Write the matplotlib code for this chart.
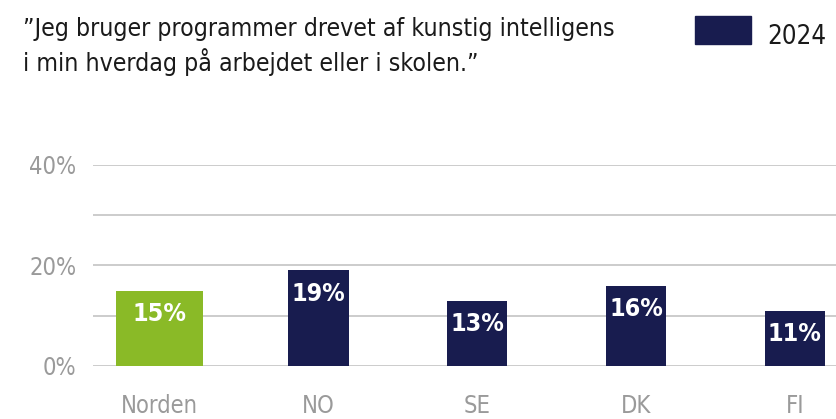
import matplotlib.pyplot as plt
from matplotlib.ticker import MultipleLocator, FuncFormatter

categories = ['Norden', 'NO', 'SE', 'DK', 'FI']
values = [15, 19, 13, 16, 11]
year = '2024'
title = '”Jeg bruger programmer drevet af kunstig intelligens\ni min hverdag på arbejdet eller i skolen.”'

green = '#8aba27'
navy = '#181c4f'
gray = '#9a9a9a'
plt.rcParams['font.family'] = ['DejaVu Sans']
plt.rcParams['font.stretch'] = 'condensed'

fig = plt.figure(figsize=(8.37, 4.19), dpi=100)
ax = fig.add_axes([0.111, 0.1265, 0.888, 0.48])

colors = [green] + [navy] * (len(categories) - 1)
widths = [0.55] + [0.38] * (len(categories) - 1)
bars = ax.bar(range(len(categories)), values, width=widths, color=colors, zorder=3)

for b, v in zip(bars, values):
    ax.annotate(f'{v}%', (b.get_x() + b.get_width() / 2, v), xytext=(0, -8),
                textcoords='offset points', ha='center', va='top',
                color='white', fontsize=18, fontweight='bold', zorder=4)

ax.set_ylim(0, 40)
ax.set_xlim(-0.42, 4.26)
ax.yaxis.set_major_locator(MultipleLocator(20))
ax.yaxis.set_minor_locator(MultipleLocator(10))
ax.yaxis.set_major_formatter(FuncFormatter(lambda v, p: f'{v:.0f}%'))
ax.grid(axis='y', which='both', color='#c8c8c8', linewidth=1.3, zorder=0)
ax.tick_params(axis='y', which='both', length=0, pad=12, labelsize=17, labelcolor=gray)
ax.tick_params(axis='x', length=0, pad=20, labelsize=17, labelcolor=gray)
ax.set_xticks(range(len(categories)))
ax.set_xticklabels(categories)
for s in ax.spines.values():
    s.set_visible(False)

fig.text(0.028, 0.96, title, ha='left', va='top', fontsize=17.8,
         color='#1a1a1a', linespacing=1.3)

# legend
fig.patches.append(plt.Rectangle((695 / 837, 1 - 44 / 419), 56 / 837, 28 / 419,
                                 transform=fig.transFigure, color=navy))
fig.text(767 / 837, 1 - 44 / 419, year, ha='left', va='baseline', fontsize=18.5,
         color='#1a1a1a')

fig.savefig('out.png', dpi=100)
